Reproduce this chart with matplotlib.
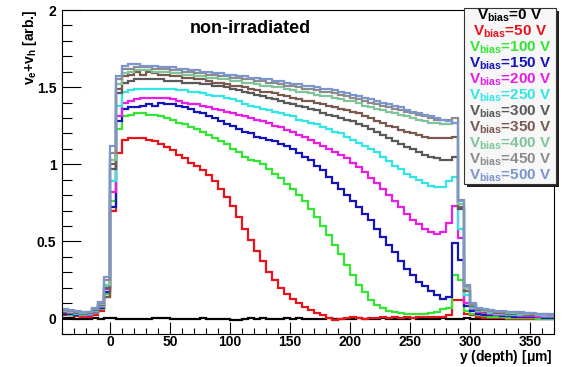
import matplotlib
matplotlib.use('Agg')
import matplotlib.pyplot as plt
import numpy as np
from matplotlib.patches import Rectangle

plt.rcParams['font.family'] = ['Liberation Sans', 'DejaVu Sans']
plt.rcParams['font.weight'] = 'bold'
plt.rcParams['mathtext.fontset'] = 'custom'
plt.rcParams['mathtext.rm'] = 'Liberation Sans:bold'
plt.rcParams['mathtext.it'] = 'Liberation Sans:bold'
plt.rcParams['mathtext.bf'] = 'Liberation Sans:bold'

# ---------------- data (bins of 5 um from -40 to 370 um) ----------------
bin_lo, bin_hi, bin_w = -40, 370, 5

v0 = [0.005, 0.005, 0.0, 0.0, 0.0, 0.005, 0.0, 0.005,
      0.005, 0.0, -0.005, 0.0, 0.0, 0.0, 0.0, 0.005, 0.005, 0.005, 0.0, 0.0,
      0.0, 0.0, 0.0, 0.005, 0.0, 0.0, 0.0, 0.0, -0.01, -0.01, 0.0, 0.005,
      0.0, 0.005, 0.0, 0.0, 0.0, 0.005, 0.0, 0.005, 0.0, 0.0, 0.0, 0.0,
      0.005, 0.0, 0.0, 0.0, 0.0, 0.005, 0.0, 0.0, 0.0, 0.005, 0.0, 0.0,
      0.0, 0.0, 0.005, 0.0, 0.0, 0.0, 0.0, 0.005, 0.0, 0.0,
      0.0, 0.005, 0.0, 0.0, 0.0, 0.0, 0.0, 0.0, 0.0, 0.0, 0.0, 0.0, 0.0, 0.0, 0.0, 0.0]
v50 = [0.02, 0.02, 0.015, 0.01, 0.01, 0.025, 0.05, 0.14,
       0.70, 1.07, 1.16, 1.17, 1.17, 1.17, 1.16, 1.15, 1.13, 1.11,
       1.09, 1.06, 1.04, 1.01, 0.99, 0.96, 0.93, 0.89, 0.84, 0.79,
       0.73, 0.66, 0.58, 0.51, 0.44, 0.37, 0.30, 0.25, 0.20, 0.16,
       0.13, 0.10, 0.075, 0.055, 0.035, 0.02, 0.005, -0.01, 0.0, 0.005,
       0.01, 0.005, 0.0, 0.005, 0.005, 0.01, 0.005, 0.01, 0.005, 0.01,
       0.005, 0.01, 0.01, 0.01, 0.01, 0.01, 0.02, 0.12,
       0.12, 0.03, 0.02, 0.01, 0.005, 0.005, 0.005, 0.005, 0.0, 0.0, 0.0, 0.0, 0.0, 0.0, 0.0, 0.0]
v100 = [0.03, 0.025, 0.02, 0.02, 0.02, 0.035, 0.065, 0.16,
        0.76, 1.23, 1.31, 1.32, 1.33, 1.33, 1.32, 1.32, 1.31, 1.30,
        1.29, 1.27, 1.26, 1.24, 1.23, 1.21, 1.19, 1.17, 1.15, 1.13,
        1.10, 1.08, 1.05, 1.03, 1.02, 1.00, 0.97, 0.94, 0.91, 0.87,
        0.84, 0.80, 0.76, 0.71, 0.66, 0.60, 0.54, 0.48, 0.42, 0.35,
        0.28, 0.22, 0.17, 0.12, 0.09, 0.07, 0.05, 0.04, 0.035, 0.03,
        0.03, 0.03, 0.03, 0.035, 0.04, 0.06, 0.07, 0.28,
        0.25, 0.05, 0.03, 0.02, 0.015, 0.01, 0.01, 0.01, 0.005, 0.005, 0.005, 0.005, 0.005, 0.0, 0.0, 0.0]
v150 = [0.03, 0.03, 0.025, 0.02, 0.02, 0.04, 0.07, 0.17,
        0.72, 1.28, 1.36, 1.37, 1.37, 1.38, 1.39, 1.38, 1.40, 1.39,
        1.39, 1.38, 1.37, 1.36, 1.34, 1.33, 1.31, 1.30, 1.28, 1.26,
        1.25, 1.23, 1.21, 1.20, 1.18, 1.17, 1.16, 1.15, 1.13, 1.12,
        1.10, 1.07, 1.05, 1.03, 0.99, 0.96, 0.92, 0.88, 0.84, 0.80,
        0.76, 0.72, 0.68, 0.64, 0.58, 0.53, 0.48, 0.43, 0.37, 0.32,
        0.28, 0.24, 0.21, 0.18, 0.15, 0.13, 0.14, 0.49,
        0.38, 0.08, 0.05, 0.03, 0.025, 0.02, 0.02, 0.015, 0.015, 0.01, 0.01, 0.01, 0.01, 0.01, 0.005, 0.005]
v200 = [0.04, 0.035, 0.03, 0.025, 0.025, 0.045, 0.075, 0.19,
        0.82, 1.31, 1.40, 1.41, 1.42, 1.43, 1.43, 1.43, 1.43, 1.43,
        1.42, 1.41, 1.40, 1.39, 1.39, 1.38, 1.37, 1.36, 1.35, 1.34,
        1.33, 1.32, 1.31, 1.30, 1.29, 1.28, 1.27, 1.25, 1.24, 1.22,
        1.21, 1.19, 1.18, 1.16, 1.14, 1.12, 1.10, 1.08, 1.06, 1.04,
        1.01, 0.98, 0.95, 0.91, 0.88, 0.84, 0.80, 0.76, 0.72, 0.68,
        0.64, 0.61, 0.58, 0.56, 0.55, 0.56, 0.62, 0.73,
        0.52, 0.10, 0.06, 0.04, 0.035, 0.03, 0.025, 0.02, 0.02, 0.02, 0.015, 0.015, 0.015, 0.01, 0.01, 0.01]
v250 = [0.045, 0.04, 0.03, 0.02, 0.03, 0.05, 0.08, 0.21,
        0.89, 1.38, 1.47, 1.48, 1.49, 1.49, 1.49, 1.49, 1.49, 1.49,
        1.49, 1.48, 1.48, 1.47, 1.47, 1.46, 1.45, 1.44, 1.44, 1.43,
        1.42, 1.41, 1.39, 1.38, 1.37, 1.36, 1.35, 1.34, 1.33, 1.32,
        1.31, 1.29, 1.28, 1.27, 1.26, 1.24, 1.23, 1.21, 1.20, 1.18,
        1.16, 1.14, 1.12, 1.10, 1.08, 1.05, 1.02, 0.99, 0.97, 0.94,
        0.92, 0.90, 0.88, 0.86, 0.85, 0.85, 0.89, 0.92,
        0.58, 0.15, 0.07, 0.05, 0.04, 0.035, 0.03, 0.03, 0.025, 0.025, 0.02, 0.02, 0.02, 0.02, 0.015, 0.015]
v300 = [0.045, 0.04, 0.035, 0.03, 0.035, 0.055, 0.09, 0.20,
        0.97, 1.46, 1.53, 1.54, 1.55, 1.55, 1.55, 1.55, 1.55, 1.54,
        1.54, 1.54, 1.53, 1.53, 1.53, 1.52, 1.52, 1.51, 1.51, 1.50,
        1.49, 1.48, 1.47, 1.46, 1.45, 1.44, 1.43, 1.42, 1.41, 1.40,
        1.39, 1.38, 1.37, 1.36, 1.35, 1.33, 1.32, 1.31, 1.30, 1.29,
        1.28, 1.26, 1.25, 1.23, 1.21, 1.19, 1.17, 1.15, 1.13, 1.11,
        1.10, 1.08, 1.06, 1.05, 1.04, 1.03, 1.03, 1.05,
        0.71, 0.18, 0.08, 0.055, 0.045, 0.04, 0.035, 0.035, 0.03, 0.03, 0.03, 0.025, 0.025, 0.025, 0.02, 0.02]
v350 = [0.045, 0.04, 0.035, 0.03, 0.035, 0.055, 0.09, 0.14,
        1.00, 1.49, 1.57, 1.58, 1.60, 1.58, 1.60, 1.59, 1.58, 1.58,
        1.57, 1.57, 1.56, 1.56, 1.55, 1.55, 1.54, 1.53, 1.53, 1.52,
        1.51, 1.51, 1.50, 1.49, 1.48, 1.47, 1.47, 1.46, 1.45, 1.44,
        1.43, 1.42, 1.41, 1.41, 1.40, 1.39, 1.38, 1.37, 1.36, 1.35,
        1.34, 1.33, 1.31, 1.30, 1.28, 1.27, 1.25, 1.24, 1.22, 1.21,
        1.20, 1.19, 1.18, 1.17, 1.17, 1.17, 1.17, 1.18,
        0.72, 0.18, 0.08, 0.055, 0.045, 0.04, 0.035, 0.035, 0.03, 0.03, 0.03, 0.025, 0.025, 0.025, 0.02, 0.02]
v400 = [0.05, 0.045, 0.04, 0.035, 0.04, 0.06, 0.095, 0.22,
        1.03, 1.52, 1.59, 1.60, 1.61, 1.61, 1.61, 1.60, 1.60, 1.60,
        1.59, 1.59, 1.58, 1.58, 1.57, 1.57, 1.56, 1.56, 1.55, 1.55,
        1.54, 1.54, 1.53, 1.53, 1.52, 1.51, 1.51, 1.50, 1.50, 1.49,
        1.48, 1.47, 1.47, 1.46, 1.45, 1.44, 1.44, 1.43, 1.42, 1.41,
        1.41, 1.40, 1.38, 1.37, 1.36, 1.35, 1.34, 1.33, 1.32, 1.31,
        1.30, 1.29, 1.28, 1.27, 1.27, 1.26, 1.26, 1.27,
        0.74, 0.20, 0.09, 0.06, 0.05, 0.045, 0.04, 0.04, 0.035, 0.035, 0.03, 0.03, 0.03, 0.025, 0.025, 0.025]
v450 = [0.055, 0.05, 0.045, 0.04, 0.04, 0.065, 0.10, 0.25,
        1.07, 1.55, 1.62, 1.62, 1.63, 1.63, 1.63, 1.62, 1.62, 1.62,
        1.61, 1.61, 1.60, 1.60, 1.59, 1.59, 1.58, 1.58, 1.57, 1.57,
        1.56, 1.56, 1.55, 1.55, 1.54, 1.54, 1.53, 1.53, 1.52, 1.51,
        1.51, 1.50, 1.49, 1.49, 1.48, 1.47, 1.47, 1.46, 1.45, 1.44,
        1.43, 1.42, 1.41, 1.40, 1.39, 1.38, 1.37, 1.36, 1.35, 1.34,
        1.33, 1.32, 1.31, 1.30, 1.29, 1.29, 1.29, 1.30,
        0.77, 0.21, 0.09, 0.065, 0.055, 0.05, 0.045, 0.045, 0.04, 0.04, 0.035, 0.035, 0.03, 0.03, 0.03, 0.025]
v500 = [0.06, 0.055, 0.05, 0.04, 0.045, 0.07, 0.11, 0.27,
        1.12, 1.57, 1.64, 1.65, 1.65, 1.64, 1.64, 1.64, 1.63, 1.63,
        1.63, 1.62, 1.62, 1.61, 1.61, 1.60, 1.60, 1.59, 1.59, 1.58,
        1.58, 1.57, 1.57, 1.56, 1.56, 1.55, 1.55, 1.54, 1.54, 1.53,
        1.52, 1.52, 1.51, 1.51, 1.50, 1.49, 1.49, 1.48, 1.47, 1.46,
        1.45, 1.44, 1.43, 1.42, 1.41, 1.40, 1.39, 1.38, 1.37, 1.35,
        1.34, 1.33, 1.32, 1.31, 1.30, 1.29, 1.28, 1.27,
        0.76, 0.22, 0.10, 0.07, 0.06, 0.055, 0.05, 0.05, 0.045, 0.04, 0.04, 0.035, 0.035, 0.03, 0.03, 0.03]

series = [v0, v50, v100, v150, v200, v250, v300, v350, v400, v450, v500]
labels = ['0', '50', '100', '150', '200', '250', '300', '350', '400', '450', '500']
colors = ['#000000', '#e8141b', '#33e633', '#1414b8', '#e61ee6', '#33e6e6',
          '#595959', '#7a5a50', '#80c49a', '#8c8c8c', '#7a96cc']

x_ticks = [0, 50, 100, 150, 200, 250, 300, 350]
y_ticks = [0, 0.5, 1, 1.5, 2]
y_tick_labels = ['0', '0.5', '1', '1.5', '2']

# ---------------- figure ----------------
W, H = 563, 367
fig = plt.figure(figsize=(W / 100, H / 100), dpi=100)


def fx(px):
    return px / W


def fy(py):
    return 1 - py / H


ax = fig.add_axes([fx(62), fy(334), fx(554) - fx(62), fy(10) - fy(334)])
edges = np.arange(bin_lo, bin_hi + bin_w / 2, bin_w)
for vals, c in zip(series, colors):
    ax.stairs(vals, edges, color=c, lw=1.6, baseline=None)

ax.set_xlim(-40, 370)
ax.set_ylim(-0.1, 2.0)
ax.set_xticks(x_ticks)
ax.set_xticklabels([str(t) for t in x_ticks])
ax.set_yticks(y_ticks)
ax.set_yticklabels(y_tick_labels)
ax.set_xticks(np.arange(-40, 371, 10), minor=True)
ax.set_yticks(np.arange(-0.1, 2.001, 0.1), minor=True)
ax.tick_params(axis='both', which='both', direction='in', top=False, right=False,
               labelsize=10, width=0.8)
ax.tick_params(axis='y', which='major', length=14, pad=4)
ax.tick_params(axis='y', which='minor', length=7)
ax.tick_params(axis='x', which='major', length=9, pad=0.5)
ax.tick_params(axis='x', which='minor', length=4.5)
for lab in ax.get_xticklabels() + ax.get_yticklabels():
    lab.set_fontweight('bold')
for s in ax.spines.values():
    s.set_linewidth(0.8)

fig.text(fx(250), fy(33), 'non-irradiated', ha='center', va='baseline',
         fontsize=13, fontweight='bold')
fig.text(fx(553), fy(357), r'y (depth) [$\mu$m]', ha='right', va='center',
         fontsize=10, fontweight='bold')
fig.text(fx(30), fy(10), r'$v_{e}$+$v_{h}$ [arb.]', ha='center', va='top',
         rotation=90, fontsize=10, fontweight='bold')

# legend box (ROOT style with shadow)
lx0, lx1, ly0, ly1 = 464, 556, 8, 184
sh = 3
fig.patches.append(Rectangle((fx(lx0 + sh), fy(ly1 + sh)), fx(lx1 - lx0), fy(ly0) - fy(ly1),
                             transform=fig.transFigure, facecolor='#222222',
                             edgecolor='none', zorder=5))
fig.patches.append(Rectangle((fx(lx0), fy(ly1)), fx(lx1 - lx0), fy(ly0) - fy(ly1),
                             transform=fig.transFigure, facecolor='#f7f7f7',
                             edgecolor='#333333', lw=0.8, zorder=6))
step = (ly1 - ly0) / len(labels)
for i, (lab, c) in enumerate(zip(labels, colors)):
    yc = ly0 + step * (i + 0.5)
    fig.text(fx(510), fy(yc), r'$V_{bias}$=' + lab + ' V', ha='center', va='center',
             fontsize=11, fontweight='bold', color=c, zorder=7)

fig.savefig('out.png', dpi=100)
